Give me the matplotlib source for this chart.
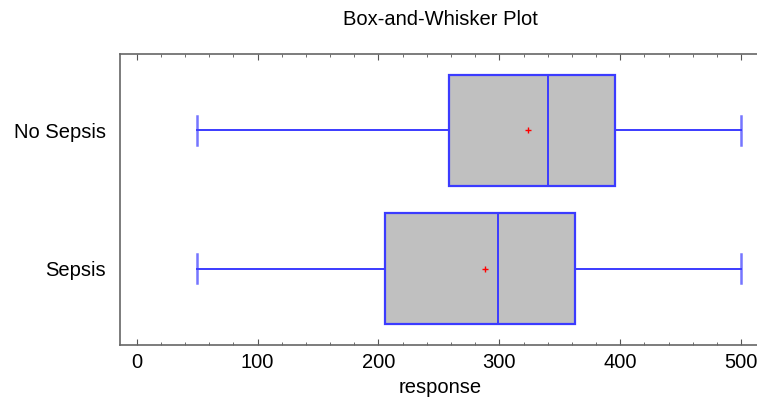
import numpy as np
import matplotlib
matplotlib.use("Agg")
import matplotlib.pyplot as plt
from matplotlib.ticker import MultipleLocator

plt.rcParams['font.family'] = ['Liberation Sans', 'DejaVu Sans']

# summary stats
groups = ["Sepsis", "No Sepsis"]
whis_lo = [50, 50]
q1 = [205, 258]
med = [299, 340]
q3 = [363, 396]
whis_hi = [500, 500]
means = [288, 324]

stats = []
for i in range(len(groups)):
    stats.append(dict(label=groups[i], whislo=whis_lo[i], q1=q1[i], med=med[i],
                      q3=q3[i], whishi=whis_hi[i], mean=means[i], fliers=[]))

fig = plt.figure(figsize=(7.57, 4.0), dpi=100)
ax = fig.add_axes([120/757, 1-345/400, (760-120)/757, (345-54)/400])

blue = "#3b3bff"
ax.bxp(stats, positions=[1, 2], vert=False, widths=0.8, capwidths=0.21,
       showmeans=True, patch_artist=True,
       boxprops=dict(facecolor="#c0c0c0", edgecolor=blue, linewidth=1.6),
       medianprops=dict(color=blue, linewidth=1.4),
       whiskerprops=dict(color=blue, linewidth=1.4),
       capprops=dict(color=blue, linewidth=1.8, alpha=0.7),
       meanprops=dict(marker="+", markeredgecolor="red", markersize=4, markeredgewidth=1))

ax.set_xlim(-13.9, 515.7)
ax.set_ylim(0.447, 2.553)
ax.xaxis.set_major_locator(MultipleLocator(100))
ax.xaxis.set_minor_locator(MultipleLocator(20))
ax.tick_params(axis="x", which="both", direction="in", top=True, bottom=True,
               colors="#555555", labelcolor="black", labelsize=14.5, pad=6)
ax.tick_params(axis="x", which="major", length=4.5)
ax.tick_params(axis="x", which="minor", length=2.5)
ax.tick_params(axis="y", length=0, labelsize=14.5, pad=10)
ax.set_yticks([1, 2])
ax.set_yticklabels(groups)

for s in ["left", "top", "bottom"]:
    ax.spines[s].set_color("#666666")
    ax.spines[s].set_linewidth(1.2)
ax.spines["right"].set_visible(False)

ax.set_xlabel("response", fontsize=14.5, labelpad=4)
ax.set_title("Box-and-Whisker Plot", fontsize=14.5, pad=21)

fig.savefig("out.png", dpi=100)
